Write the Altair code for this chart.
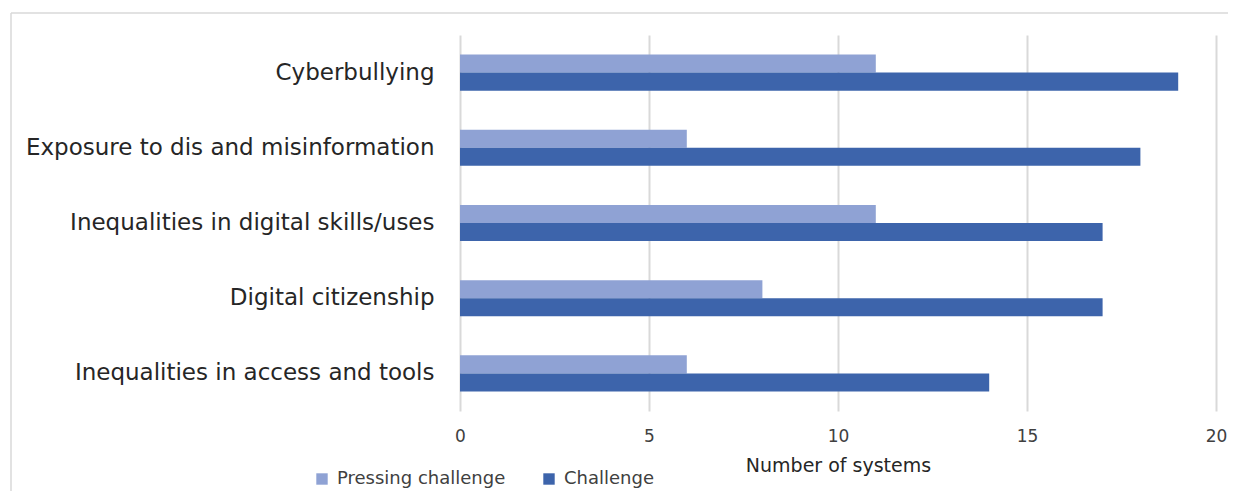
import altair as alt
import pandas as pd

categories = [
    "Cyberbullying",
    "Exposure to dis and misinformation",
    "Inequalities in digital skills/uses",
    "Digital citizenship",
    "Inequalities in access and tools",
]
pressing = [11, 6, 11, 8, 6]
challenge = [19, 18, 17, 17, 14]
series = ["Pressing challenge", "Challenge"]
colors = ["#8FA2D4", "#3D64AB"]
x_ticks = [0, 5, 10, 15, 20]

rows = []
for c, p, ch in zip(categories, pressing, challenge):
    rows.append({"category": c, "series": series[0], "value": p})
    rows.append({"category": c, "series": series[1], "value": ch})
df = pd.DataFrame(rows)

FONT = "DejaVu Sans"

bars = alt.Chart(df).mark_bar().encode(
    y=alt.Y(
        "category:N",
        sort=categories,
        scale=alt.Scale(paddingInner=0.52, paddingOuter=0.26),
        axis=alt.Axis(
            title=None, domain=False, ticks=False, grid=False,
            labelFont=FONT, labelFontSize=23, labelColor="#262626",
            labelPadding=26, labelLimit=600,
        ),
    ),
    yOffset=alt.YOffset("series:N", sort=series, scale=alt.Scale(paddingInner=0, paddingOuter=0)),
    x=alt.X(
        "value:Q",
        scale=alt.Scale(domain=[0, 20], nice=False),
        axis=alt.Axis(
            values=x_ticks, title="Number of systems", domain=False, ticks=False,
            grid=True, gridColor="#d9d9d9", gridWidth=2,
            labelFont=FONT, labelFontSize=17, labelColor="#404040", labelPadding=17,
            labelFlush=False,
            titleFont=FONT, titleFontSize=19, titleFontWeight="normal", titleColor="#262626",
            titlePadding=12,
        ),
    ),
    color=alt.Color(
        "series:N",
        sort=series,
        scale=alt.Scale(domain=series, range=colors),
        legend=alt.Legend(
            title=None, orient="none", direction="horizontal",
            legendX=-147, legendY=435,
            symbolType="square", symbolSize=130, symbolStrokeWidth=0,
            labelFont=FONT, labelFontSize=18, labelColor="#404040", labelLimit=400,
            labelOffset=6, columnPadding=34, padding=0,
        ),
    ),
)

one = pd.DataFrame({"k": [0]})
frame_top = alt.Chart(one).mark_rule(stroke="#d9d9d9", strokeWidth=1.5).encode(
    x=alt.value(-449), x2=alt.value(768), y=alt.value(-22)
)
frame_left = alt.Chart(one).mark_rule(stroke="#d9d9d9", strokeWidth=1.5).encode(
    x=alt.value(-449), y=alt.value(-22), y2=alt.value(470)
)

chart = alt.layer(frame_top, frame_left, bars).properties(
    width=756, height=376,
    background="white",
    autosize=alt.AutoSizeParams(type="none"),
    padding={"left": 452, "top": 27, "right": 12, "bottom": 80},
).configure_view(strokeWidth=0)

chart.save("out.html", embed_options={"renderer": "svg", "actions": False})
